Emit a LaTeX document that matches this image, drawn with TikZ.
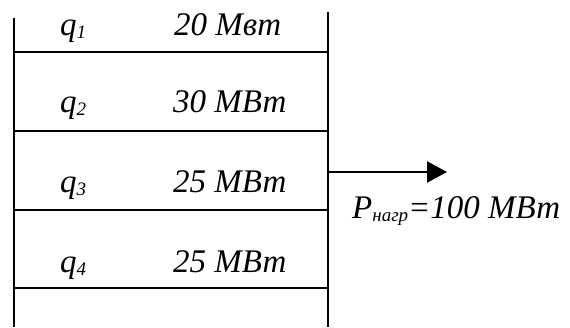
\documentclass[tikz,border=0pt]{standalone}
\usepackage{fontspec}
\setmainfont{Liberation Serif}
\usetikzlibrary{arrows.meta, positioning}
\newcommand{\idx}[1]{\raisebox{-3pt}{\fontsize{19}{21}\selectfont #1}}

\begin{document}
\begin{tikzpicture}[
    x=1pt, y=-1pt,
    bus/.style={line width=2.6pt},
    sep/.style={line width=1.6pt},
    lbl/.style={font=\fontsize{33}{38}\selectfont\itshape, anchor=base west, inner sep=0pt},
    flow/.style={-{Triangle[length=20pt, width=21pt]}, line width=2.6pt},
]
    \useasboundingbox (0,0) rectangle (570,327);

    % bus lines
    \coordinate (lt) at (14,18);
    \coordinate (lb) at (14,327);
    \coordinate (rt) at (328,12);
    \coordinate (rb) at (328,327);
    \draw[bus] (lt) -- (lb);
    \draw[bus] (rt) -- (rb);

    % separators
    \draw[sep] (14,52) -- (328,52);
    \draw[sep] (14,131) -- (328,131);
    \draw[sep] (14,210) -- (328,210);
    \draw[sep] (14,288) -- (328,288);

    % rows
    \node[lbl] (q1) at (60,35) {q\idx{1}};
    \node[lbl] (v1) at (174,35) {20 Мвт};
    \node[lbl] (q2) at (60,112) {q\idx{2}};
    \node[lbl] (v2) at (173,112) {30 МВт};
    \node[lbl] (q3) at (60,192) {q\idx{3}};
    \node[lbl] (v3) at (173,192) {25 МВт};
    \node[lbl] (q4) at (60,272) {q\idx{4}};
    \node[lbl] (v4) at (173,272) {25 МВт};

    % load
    \coordinate (out) at (328,172);
    \coordinate (tip) at (447,172);
    \draw[flow] (out) -- (tip);
    \node[lbl] (load) at (352,218) {P\idx{нагр}=100 МВт};
\end{tikzpicture}
\end{document}
